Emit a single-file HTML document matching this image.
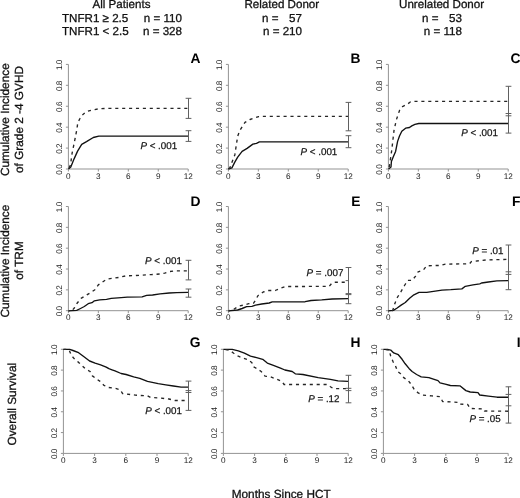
<!DOCTYPE html>
<html><head><meta charset="utf-8"><style>
html,body{margin:0;padding:0;background:#fff;width:520px;height:498px;overflow:hidden}
svg{display:block;will-change:transform}
text{font-family:"Liberation Sans", sans-serif;fill:#111;text-rendering:geometricPrecision}
.tl{font-size:8.2px;fill:#1a1a1a}
.tly{letter-spacing:-0.5px}
.pt{font-size:9.8px;fill:#151515;stroke:#151515;stroke-width:0.25px}
.let{font-size:13.8px;font-weight:bold;fill:#000}
.h{font-size:11.6px;fill:#111;stroke:#111;stroke-width:0.3px}
.r{font-size:11.8px;fill:#111;stroke:#111;stroke-width:0.3px}
</style></head><body>
<svg width="520" height="498" viewBox="0 0 520 498">
<text x="121.5" y="8.1" class="h" text-anchor="middle">All Patients</text>
<text x="62" y="22.3" class="h">TNFR1 ≥ 2.5</text>
<text x="62" y="35.2" class="h">TNFR1 &lt; 2.5</text>
<text x="182" y="22.3" class="h" text-anchor="end">n = 110</text>
<text x="182" y="35.2" class="h" text-anchor="end">n = 328</text>
<text x="281.8" y="8.1" class="h" text-anchor="middle">Related Donor</text>
<text x="262" y="22.3" class="h">n =</text><text x="302" y="22.3" class="h" text-anchor="end">57</text>
<text x="302" y="35.2" class="h" text-anchor="end">n = 210</text>
<text x="441.6" y="8.1" class="h" text-anchor="middle">Unrelated Donor</text>
<text x="422" y="22.3" class="h">n =</text><text x="462" y="22.3" class="h" text-anchor="end">53</text>
<text x="462" y="35.2" class="h" text-anchor="end">n = 118</text>
<text transform="translate(8.9,119.7) rotate(-90)" class="r" text-anchor="middle">Cumulative Incidence</text>
<text transform="translate(23.1,119.5) rotate(-90)" class="r" text-anchor="middle">of Grade 2 -4 GVHD</text>
<text transform="translate(8.9,261.1) rotate(-90)" class="r" text-anchor="middle">Cumulative Incidence</text>
<text transform="translate(23.1,260.5) rotate(-90)" class="r" text-anchor="middle">of TRM</text>
<text transform="translate(16.3,404.2) rotate(-90)" class="r" text-anchor="middle">Overall Survival</text>
<text x="281.2" y="497.9" class="r" text-anchor="middle">Months Since HCT</text>
<path d="M68.4,64.4V169M68.4,169H188.2" stroke="#939393" stroke-width="1" fill="none"/>
<path d="M65.9,169H68.4M65.9,148.08H68.4M65.9,127.16H68.4M65.9,106.24H68.4M65.9,85.32H68.4M65.9,64.4H68.4M68.4,169V171.5M98.35,169V171.5M128.3,169V171.5M158.25,169V171.5M188.2,169V171.5" stroke="#939393" stroke-width="1" fill="none"/>
<text transform="translate(62.2,169.7) rotate(-90)" class="tl tly" text-anchor="middle">0.0</text>
<text transform="translate(62.2,148.78) rotate(-90)" class="tl tly" text-anchor="middle">0.2</text>
<text transform="translate(62.2,127.86) rotate(-90)" class="tl tly" text-anchor="middle">0.4</text>
<text transform="translate(62.2,106.94) rotate(-90)" class="tl tly" text-anchor="middle">0.6</text>
<text transform="translate(62.2,86.02) rotate(-90)" class="tl tly" text-anchor="middle">0.8</text>
<text transform="translate(62.2,65.1) rotate(-90)" class="tl tly" text-anchor="middle">1.0</text>
<text x="68.4" y="178.5" class="tl" text-anchor="middle">0</text>
<text x="98.35" y="178.5" class="tl" text-anchor="middle">3</text>
<text x="128.3" y="178.5" class="tl" text-anchor="middle">6</text>
<text x="158.25" y="178.5" class="tl" text-anchor="middle">9</text>
<text x="188.2" y="178.5" class="tl" text-anchor="middle">12</text>
<polyline points="68.5,169 70.8,167.1 74.2,158.6 77.6,151.1 81.7,144.3 86.5,141.6 93.3,137.5 98.8,136.1 188,136.1" stroke="#111" stroke-width="1.35" fill="none" stroke-linejoin="round"/>
<polyline points="68.5,169 70.5,165 72.1,153.2 74.9,139.5 76.9,129.3 77.8,122.5 80,118.5 82.4,114.9 86.5,111.5 92,110.1 98.8,108.8 105.6,108.4 188,108.4" stroke="#262626" stroke-width="1.35" fill="none" stroke-dasharray="3.1 3.8" stroke-dashoffset="5.7" stroke-linejoin="round"/>
<path d="M188.5,98.3V118.4M188.5,130.7V141.4M185.6,98.3H191.4M185.6,118.4H191.4M185.6,130.7H191.4M185.6,141.4H191.4" stroke="#606060" stroke-width="1" fill="none"/>
<text x="140.4" y="148.5" class="pt"><tspan font-style="italic">P</tspan> &lt; .001</text>
<text x="200.5" y="63.2" class="let" text-anchor="end">A</text>
<path d="M228.4,64.4V169M228.4,169H348.2" stroke="#939393" stroke-width="1" fill="none"/>
<path d="M225.9,169H228.4M225.9,148.08H228.4M225.9,127.16H228.4M225.9,106.24H228.4M225.9,85.32H228.4M225.9,64.4H228.4M228.4,169V171.5M258.35,169V171.5M288.3,169V171.5M318.25,169V171.5M348.2,169V171.5" stroke="#939393" stroke-width="1" fill="none"/>
<text transform="translate(222.2,169.7) rotate(-90)" class="tl tly" text-anchor="middle">0.0</text>
<text transform="translate(222.2,148.78) rotate(-90)" class="tl tly" text-anchor="middle">0.2</text>
<text transform="translate(222.2,127.86) rotate(-90)" class="tl tly" text-anchor="middle">0.4</text>
<text transform="translate(222.2,106.94) rotate(-90)" class="tl tly" text-anchor="middle">0.6</text>
<text transform="translate(222.2,86.02) rotate(-90)" class="tl tly" text-anchor="middle">0.8</text>
<text transform="translate(222.2,65.1) rotate(-90)" class="tl tly" text-anchor="middle">1.0</text>
<text x="228.4" y="178.5" class="tl" text-anchor="middle">0</text>
<text x="258.35" y="178.5" class="tl" text-anchor="middle">3</text>
<text x="288.3" y="178.5" class="tl" text-anchor="middle">6</text>
<text x="318.25" y="178.5" class="tl" text-anchor="middle">9</text>
<text x="348.2" y="178.5" class="tl" text-anchor="middle">12</text>
<polyline points="228.3,169 231.9,167.9 234.8,162.1 237.7,157.1 242.1,151.3 247.1,148.4 252.9,144.1 256.5,143.4 259.4,141.9 348,141.9" stroke="#111" stroke-width="1.35" fill="none" stroke-linejoin="round"/>
<polyline points="228.3,169 229.8,167.9 234.8,154.9 237.7,136.1 239.9,130.3 245,122.4 250,119.5 258.7,116.6 262,116.3 348,116.3" stroke="#262626" stroke-width="1.35" fill="none" stroke-dasharray="3.1 3.8" stroke-dashoffset="6.37" stroke-linejoin="round"/>
<path d="M348.5,102.4V130.8M348.5,135.7V147.7M345.6,102.4H351.4M345.6,130.8H351.4M345.6,135.7H351.4M345.6,147.7H351.4" stroke="#606060" stroke-width="1" fill="none"/>
<text x="300.5" y="154.7" class="pt"><tspan font-style="italic">P</tspan> &lt; .001</text>
<text x="360.5" y="63.2" class="let" text-anchor="end">B</text>
<path d="M388.4,64.4V169M388.4,169H508.2" stroke="#939393" stroke-width="1" fill="none"/>
<path d="M385.9,169H388.4M385.9,148.08H388.4M385.9,127.16H388.4M385.9,106.24H388.4M385.9,85.32H388.4M385.9,64.4H388.4M388.4,169V171.5M418.35,169V171.5M448.3,169V171.5M478.25,169V171.5M508.2,169V171.5" stroke="#939393" stroke-width="1" fill="none"/>
<text transform="translate(382.2,169.7) rotate(-90)" class="tl tly" text-anchor="middle">0.0</text>
<text transform="translate(382.2,148.78) rotate(-90)" class="tl tly" text-anchor="middle">0.2</text>
<text transform="translate(382.2,127.86) rotate(-90)" class="tl tly" text-anchor="middle">0.4</text>
<text transform="translate(382.2,106.94) rotate(-90)" class="tl tly" text-anchor="middle">0.6</text>
<text transform="translate(382.2,86.02) rotate(-90)" class="tl tly" text-anchor="middle">0.8</text>
<text transform="translate(382.2,65.1) rotate(-90)" class="tl tly" text-anchor="middle">1.0</text>
<text x="388.4" y="178.5" class="tl" text-anchor="middle">0</text>
<text x="418.35" y="178.5" class="tl" text-anchor="middle">3</text>
<text x="448.3" y="178.5" class="tl" text-anchor="middle">6</text>
<text x="478.25" y="178.5" class="tl" text-anchor="middle">9</text>
<text x="508.2" y="178.5" class="tl" text-anchor="middle">12</text>
<polyline points="388.6,168.9 391,166.9 391.4,161.5 393.3,156.8 395.6,151.4 397.6,141.4 399.5,136 401.8,131.3 405.6,128.2 409.5,127.5 411.8,125.9 414.9,124.4 418.8,123.5 508,123.5" stroke="#111" stroke-width="1.35" fill="none" stroke-linejoin="round"/>
<polyline points="388.6,169 389.4,166.1 391.7,150.6 394,130.5 396.4,119.7 399.5,110.5 402.5,106.6 407.2,104.3 410.3,102 414,101.4 508,101.4" stroke="#262626" stroke-width="1.35" fill="none" stroke-dasharray="3.1 3.8" stroke-dashoffset="4.91" stroke-linejoin="round"/>
<path d="M508.5,86.3V133.1M505.6,86.3H511.4M505.6,115.8H511.4M505.6,113.5H511.4M505.6,133.1H511.4" stroke="#606060" stroke-width="1" fill="none"/>
<text x="461.2" y="136.1" class="pt"><tspan font-style="italic">P</tspan> &lt; .001</text>
<text x="520.5" y="63.2" class="let" text-anchor="end">C</text>
<path d="M68.4,206.5V310.7M68.4,310.7H188.2" stroke="#939393" stroke-width="1" fill="none"/>
<path d="M65.9,310.7H68.4M65.9,289.86H68.4M65.9,269.02H68.4M65.9,248.18H68.4M65.9,227.34H68.4M65.9,206.5H68.4M68.4,310.7V313.2M98.35,310.7V313.2M128.3,310.7V313.2M158.25,310.7V313.2M188.2,310.7V313.2" stroke="#939393" stroke-width="1" fill="none"/>
<text transform="translate(62.2,311.4) rotate(-90)" class="tl tly" text-anchor="middle">0.0</text>
<text transform="translate(62.2,290.56) rotate(-90)" class="tl tly" text-anchor="middle">0.2</text>
<text transform="translate(62.2,269.72) rotate(-90)" class="tl tly" text-anchor="middle">0.4</text>
<text transform="translate(62.2,248.88) rotate(-90)" class="tl tly" text-anchor="middle">0.6</text>
<text transform="translate(62.2,228.04) rotate(-90)" class="tl tly" text-anchor="middle">0.8</text>
<text transform="translate(62.2,207.2) rotate(-90)" class="tl tly" text-anchor="middle">1.0</text>
<text x="68.4" y="320.2" class="tl" text-anchor="middle">0</text>
<text x="98.35" y="320.2" class="tl" text-anchor="middle">3</text>
<text x="128.3" y="320.2" class="tl" text-anchor="middle">6</text>
<text x="158.25" y="320.2" class="tl" text-anchor="middle">9</text>
<text x="188.2" y="320.2" class="tl" text-anchor="middle">12</text>
<polyline points="68.5,310.8 76.7,310.4 80.5,308.5 84.3,306.5 88.2,303.7 92,302.7 94.4,300.8 99.7,299.8 106.5,299.3 111.3,298.4 118,297.9 127.3,297.2 142.1,296.9 146.6,295.4 152.6,295 160.1,293.9 169.2,293 176.7,292.7 188,292.4" stroke="#111" stroke-width="1.35" fill="none" stroke-linejoin="round"/>
<polyline points="68.5,311 72,310.5 74.3,308 77.1,303.2 81,298.4 85.8,295.5 90.6,292.6 94.9,289.7 98.3,284.9 102.6,282 106.9,279.1 113.2,278.2 119.7,277.3 126,275.8 139.1,275.4 151.1,274.6 161.7,273.9 164.7,273.1 169.2,271.6 175.2,270.9 188,270.9" stroke="#262626" stroke-width="1.35" fill="none" stroke-dasharray="3.1 3.8" stroke-dashoffset="2.17" stroke-linejoin="round"/>
<path d="M188.5,260.3V279.9M188.5,289V297.2M185.6,260.3H191.4M185.6,279.9H191.4M185.6,289H191.4M185.6,297.2H191.4" stroke="#606060" stroke-width="1" fill="none"/>
<text x="145.1" y="263.8" class="pt"><tspan font-style="italic">P</tspan> &lt; .001</text>
<text x="200.5" y="205.6" class="let" text-anchor="end">D</text>
<path d="M228.4,206.5V310.7M228.4,310.7H348.2" stroke="#939393" stroke-width="1" fill="none"/>
<path d="M225.9,310.7H228.4M225.9,289.86H228.4M225.9,269.02H228.4M225.9,248.18H228.4M225.9,227.34H228.4M225.9,206.5H228.4M228.4,310.7V313.2M258.35,310.7V313.2M288.3,310.7V313.2M318.25,310.7V313.2M348.2,310.7V313.2" stroke="#939393" stroke-width="1" fill="none"/>
<text transform="translate(222.2,311.4) rotate(-90)" class="tl tly" text-anchor="middle">0.0</text>
<text transform="translate(222.2,290.56) rotate(-90)" class="tl tly" text-anchor="middle">0.2</text>
<text transform="translate(222.2,269.72) rotate(-90)" class="tl tly" text-anchor="middle">0.4</text>
<text transform="translate(222.2,248.88) rotate(-90)" class="tl tly" text-anchor="middle">0.6</text>
<text transform="translate(222.2,228.04) rotate(-90)" class="tl tly" text-anchor="middle">0.8</text>
<text transform="translate(222.2,207.2) rotate(-90)" class="tl tly" text-anchor="middle">1.0</text>
<text x="228.4" y="320.2" class="tl" text-anchor="middle">0</text>
<text x="258.35" y="320.2" class="tl" text-anchor="middle">3</text>
<text x="288.3" y="320.2" class="tl" text-anchor="middle">6</text>
<text x="318.25" y="320.2" class="tl" text-anchor="middle">9</text>
<text x="348.2" y="320.2" class="tl" text-anchor="middle">12</text>
<polyline points="228.5,310.8 237.6,310 242.1,308.5 246.6,306.7 251.9,306.3 255.6,305.1 261.7,304 269.2,303 272.2,301.9 305.1,301.7 311.1,300.5 321.7,299.9 332.2,299 348,298.7" stroke="#111" stroke-width="1.35" fill="none" stroke-linejoin="round"/>
<polyline points="228.5,311 233.8,309.3 238.3,306.3 243.6,305.1 248.8,303.6 253.4,303.3 255.6,300.2 257.9,295.7 263.2,292 267.7,290.5 275.2,290.5 280.5,288.2 285.7,286.5 329.2,286.4 331.4,283.7 333.7,282.3 348,282.2" stroke="#262626" stroke-width="1.35" fill="none" stroke-dasharray="3.1 3.8" stroke-dashoffset="1.31" stroke-linejoin="round"/>
<path d="M348.5,267.5V303.7M345.6,267.5H351.4M345.6,293.6H351.4M345.6,294.6H351.4M345.6,303.7H351.4M345.6,280.6H348.5" stroke="#606060" stroke-width="1" fill="none"/>
<text x="306.6" y="276.1" class="pt"><tspan font-style="italic">P</tspan> = .007</text>
<text x="360.5" y="205.6" class="let" text-anchor="end">E</text>
<path d="M388.4,206.5V310.7M388.4,310.7H508.2" stroke="#939393" stroke-width="1" fill="none"/>
<path d="M385.9,310.7H388.4M385.9,289.86H388.4M385.9,269.02H388.4M385.9,248.18H388.4M385.9,227.34H388.4M385.9,206.5H388.4M388.4,310.7V313.2M418.35,310.7V313.2M448.3,310.7V313.2M478.25,310.7V313.2M508.2,310.7V313.2" stroke="#939393" stroke-width="1" fill="none"/>
<text transform="translate(382.2,311.4) rotate(-90)" class="tl tly" text-anchor="middle">0.0</text>
<text transform="translate(382.2,290.56) rotate(-90)" class="tl tly" text-anchor="middle">0.2</text>
<text transform="translate(382.2,269.72) rotate(-90)" class="tl tly" text-anchor="middle">0.4</text>
<text transform="translate(382.2,248.88) rotate(-90)" class="tl tly" text-anchor="middle">0.6</text>
<text transform="translate(382.2,228.04) rotate(-90)" class="tl tly" text-anchor="middle">0.8</text>
<text transform="translate(382.2,207.2) rotate(-90)" class="tl tly" text-anchor="middle">1.0</text>
<text x="388.4" y="320.2" class="tl" text-anchor="middle">0</text>
<text x="418.35" y="320.2" class="tl" text-anchor="middle">3</text>
<text x="448.3" y="320.2" class="tl" text-anchor="middle">6</text>
<text x="478.25" y="320.2" class="tl" text-anchor="middle">9</text>
<text x="508.2" y="320.2" class="tl" text-anchor="middle">12</text>
<polyline points="388.3,310.8 393.4,310.4 396.8,308.2 401.1,305.1 405.3,302.5 409.6,298.3 413.9,294.8 419,292.3 426.7,292.3 435.2,291.1 442,290.1 450.8,289.7 461.9,288.9 465.3,286.3 473,284.9 479.8,283.8 481.5,283 488.4,282 496.9,280.9 508,280.7" stroke="#111" stroke-width="1.35" fill="none" stroke-linejoin="round"/>
<polyline points="388.3,311 392.6,310.8 394.2,305.5 396.8,298.3 401.1,291.4 404.5,285.5 407.9,280.3 412.2,280.3 415.6,276.1 418.1,271.8 423.2,270.1 426.7,265.8 433.5,265.5 440.3,265.5 445.4,264.1 469.6,263.8 471.3,261.6 486.7,259.9 508,259.4" stroke="#262626" stroke-width="1.35" fill="none" stroke-dasharray="3.1 3.8" stroke-dashoffset="2.71" stroke-linejoin="round"/>
<path d="M508.5,245V289.7M505.6,245H511.4M505.6,274.4H511.4M505.6,271.8H511.4M505.6,289.7H511.4" stroke="#606060" stroke-width="1" fill="none"/>
<text x="472.2" y="254.2" class="pt"><tspan font-style="italic">P</tspan> = .01</text>
<text x="520.5" y="205.6" class="let" text-anchor="end">F</text>
<path d="M63.4,349.3V453.4M63.4,453.4H188.2" stroke="#939393" stroke-width="1" fill="none"/>
<path d="M60.9,453.4H63.4M60.9,432.58H63.4M60.9,411.76H63.4M60.9,390.94H63.4M60.9,370.12H63.4M60.9,349.3H63.4M63.4,453.4V455.9M94.6,453.4V455.9M125.8,453.4V455.9M157,453.4V455.9M188.2,453.4V455.9" stroke="#939393" stroke-width="1" fill="none"/>
<text transform="translate(57.2,454.1) rotate(-90)" class="tl tly" text-anchor="middle">0.0</text>
<text transform="translate(57.2,433.28) rotate(-90)" class="tl tly" text-anchor="middle">0.2</text>
<text transform="translate(57.2,412.46) rotate(-90)" class="tl tly" text-anchor="middle">0.4</text>
<text transform="translate(57.2,391.64) rotate(-90)" class="tl tly" text-anchor="middle">0.6</text>
<text transform="translate(57.2,370.82) rotate(-90)" class="tl tly" text-anchor="middle">0.8</text>
<text transform="translate(57.2,350) rotate(-90)" class="tl tly" text-anchor="middle">1.0</text>
<text x="63.4" y="462.9" class="tl" text-anchor="middle">0</text>
<text x="94.6" y="462.9" class="tl" text-anchor="middle">3</text>
<text x="125.8" y="462.9" class="tl" text-anchor="middle">6</text>
<text x="157" y="462.9" class="tl" text-anchor="middle">9</text>
<text x="188.2" y="462.9" class="tl" text-anchor="middle">12</text>
<polyline points="63.4,349.3 69.7,349.3 73,350.5 78.6,352.7 83,356 89.6,361 95.1,363.2 100.6,364.9 106.2,367.1 108.9,368.7 112,369.8 115,370.9 121.1,373.5 126.1,374.5 133.7,376.8 139.8,378.4 147.5,381.4 158.2,383.7 165.8,384.9 173.4,386 181.1,387.1 188,387.1" stroke="#111" stroke-width="1.35" fill="none" stroke-linejoin="round"/>
<polyline points="63.4,349.3 68.5,349.5 69.5,351 71.4,355.5 74.7,359.3 78.6,362.4 81.9,365.4 85.2,368.7 90.1,371.5 92.4,375.9 96.2,378.7 100.1,381.4 103.9,385.3 108.4,387.5 115,388.3 120.3,389.8 122.6,393.6 135.3,395.1 147.5,395.9 150.5,397.4 161.2,398.2 168.9,399 175,400.5 188,400.5" stroke="#262626" stroke-width="1.35" fill="none" stroke-dasharray="3.1 3.8" stroke-dashoffset="0.27" stroke-linejoin="round"/>
<path d="M188.5,381.1V410.4M185.6,381.1H191.4M185.6,390.6H191.4M185.6,392.5H191.4M185.6,410.4H191.4" stroke="#606060" stroke-width="1" fill="none"/>
<text x="145.2" y="413.5" class="pt"><tspan font-style="italic">P</tspan> &lt; .001</text>
<text x="200.5" y="347.4" class="let" text-anchor="end">G</text>
<path d="M223.4,349.3V453.4M223.4,453.4H348.2" stroke="#939393" stroke-width="1" fill="none"/>
<path d="M220.9,453.4H223.4M220.9,432.58H223.4M220.9,411.76H223.4M220.9,390.94H223.4M220.9,370.12H223.4M220.9,349.3H223.4M223.4,453.4V455.9M254.6,453.4V455.9M285.8,453.4V455.9M317,453.4V455.9M348.2,453.4V455.9" stroke="#939393" stroke-width="1" fill="none"/>
<text transform="translate(217.2,454.1) rotate(-90)" class="tl tly" text-anchor="middle">0.0</text>
<text transform="translate(217.2,433.28) rotate(-90)" class="tl tly" text-anchor="middle">0.2</text>
<text transform="translate(217.2,412.46) rotate(-90)" class="tl tly" text-anchor="middle">0.4</text>
<text transform="translate(217.2,391.64) rotate(-90)" class="tl tly" text-anchor="middle">0.6</text>
<text transform="translate(217.2,370.82) rotate(-90)" class="tl tly" text-anchor="middle">0.8</text>
<text transform="translate(217.2,350) rotate(-90)" class="tl tly" text-anchor="middle">1.0</text>
<text x="223.4" y="462.9" class="tl" text-anchor="middle">0</text>
<text x="254.6" y="462.9" class="tl" text-anchor="middle">3</text>
<text x="285.8" y="462.9" class="tl" text-anchor="middle">6</text>
<text x="317" y="462.9" class="tl" text-anchor="middle">9</text>
<text x="348.2" y="462.9" class="tl" text-anchor="middle">12</text>
<polyline points="223.4,349.3 232.2,349.3 238.3,350.9 244.4,353.2 250.5,356.2 256.6,357.7 262.7,359.3 267.3,363.1 273.4,365.4 281.1,368.4 284.9,370 292.2,371.5 295.3,373.8 302.9,374.5 318.2,377.6 330.4,379.4 338,380.9 348,381.4" stroke="#111" stroke-width="1.35" fill="none" stroke-linejoin="round"/>
<polyline points="223.4,349.3 229.2,350.1 233.7,353.2 238.3,356.2 242.9,358 249,360 252.1,363.1 253.6,366.9 256.6,368.4 261.2,371.5 265,376.1 270.4,376.8 276.5,379.1 281.8,381.4 284.1,384.5 327.3,384.5 330.4,386.7 333.4,388.6 348,388.6" stroke="#262626" stroke-width="1.35" fill="none" stroke-dasharray="3.1 3.8" stroke-dashoffset="4.74" stroke-linejoin="round"/>
<path d="M348.5,375.3V402.8M345.6,375.3H351.4M345.6,388.3H351.4M345.6,390.6H351.4M345.6,402.8H351.4" stroke="#606060" stroke-width="1" fill="none"/>
<text x="308.2" y="401.7" class="pt"><tspan font-style="italic">P</tspan> = .12</text>
<text x="360.5" y="347.4" class="let" text-anchor="end">H</text>
<path d="M383.4,349.3V453.4M383.4,453.4H508.2" stroke="#939393" stroke-width="1" fill="none"/>
<path d="M380.9,453.4H383.4M380.9,432.58H383.4M380.9,411.76H383.4M380.9,390.94H383.4M380.9,370.12H383.4M380.9,349.3H383.4M383.4,453.4V455.9M414.6,453.4V455.9M445.8,453.4V455.9M477,453.4V455.9M508.2,453.4V455.9" stroke="#939393" stroke-width="1" fill="none"/>
<text transform="translate(377.2,454.1) rotate(-90)" class="tl tly" text-anchor="middle">0.0</text>
<text transform="translate(377.2,433.28) rotate(-90)" class="tl tly" text-anchor="middle">0.2</text>
<text transform="translate(377.2,412.46) rotate(-90)" class="tl tly" text-anchor="middle">0.4</text>
<text transform="translate(377.2,391.64) rotate(-90)" class="tl tly" text-anchor="middle">0.6</text>
<text transform="translate(377.2,370.82) rotate(-90)" class="tl tly" text-anchor="middle">0.8</text>
<text transform="translate(377.2,350) rotate(-90)" class="tl tly" text-anchor="middle">1.0</text>
<text x="383.4" y="462.9" class="tl" text-anchor="middle">0</text>
<text x="414.6" y="462.9" class="tl" text-anchor="middle">3</text>
<text x="445.8" y="462.9" class="tl" text-anchor="middle">6</text>
<text x="477" y="462.9" class="tl" text-anchor="middle">9</text>
<text x="508.2" y="462.9" class="tl" text-anchor="middle">12</text>
<polyline points="383.4,349.3 387.6,349.3 390.7,350.1 393.7,352.9 398.3,354.7 402.1,359.3 405.2,363.8 409,368.4 412.1,371.5 416.6,374.5 421.2,376.8 428.9,377.6 433.4,379.1 438,380.6 440,382.9 445.2,384.1 450.4,385.5 459.9,385.8 465.9,390.6 470.2,392 478,392.7 479.7,395 488.4,396.2 497,397.2 508,397.2" stroke="#111" stroke-width="1.35" fill="none" stroke-linejoin="round"/>
<polyline points="383.4,349.3 389.2,350.1 390.7,356.2 393,361.6 395.3,365.4 397.6,371.5 400.6,373.8 403.7,377.6 408.2,380.6 411.3,384.5 414.4,389.8 418.2,392.9 422.7,395.1 431.9,395.9 440.3,396.7 442.6,401.5 459,402.4 459.9,404.1 467.6,404.4 470.2,408.5 483.5,408.9 484.5,411 508,411.2" stroke="#262626" stroke-width="1.35" fill="none" stroke-dasharray="3.1 3.8" stroke-dashoffset="4.62" stroke-linejoin="round"/>
<path d="M508.5,386.8V423.1M505.6,386.8H511.4M505.6,394.4H511.4M505.6,405.8H511.4M505.6,423.1H511.4" stroke="#606060" stroke-width="1" fill="none"/>
<text x="469.4" y="422.1" class="pt"><tspan font-style="italic">P</tspan> = .05</text>
<text x="520.5" y="347.4" class="let" text-anchor="end">I</text>
</svg></body></html>
